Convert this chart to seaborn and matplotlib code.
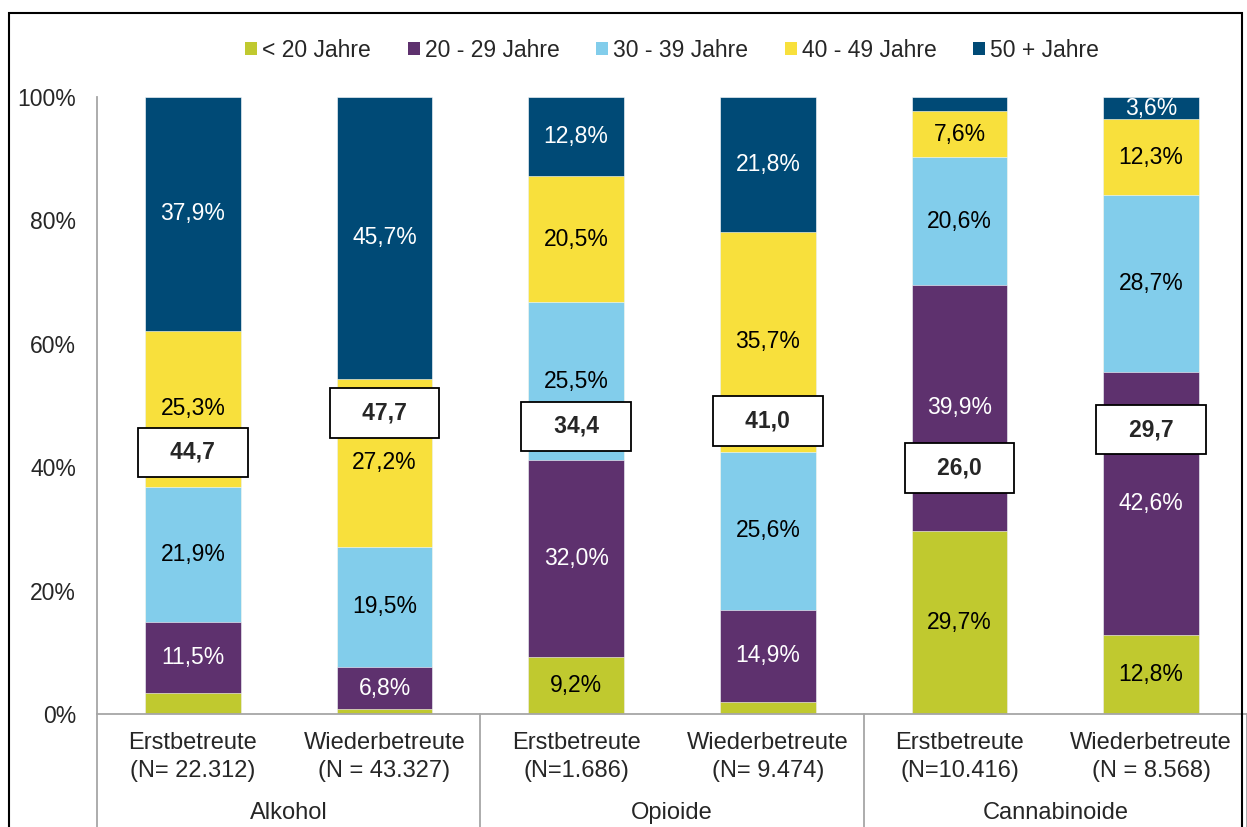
import matplotlib
matplotlib.use("Agg")
import matplotlib.pyplot as plt
import matplotlib.transforms as mtransforms
from matplotlib.patches import Patch, Rectangle
import numpy as np
import pandas as pd
import seaborn as sns

# data
bar_labels = ["Erstbetreute\n(N= 22.312)", "Wiederbetreute\n(N = 43.327)",
              "Erstbetreute\n(N=1.686)", "Wiederbetreute\n(N= 9.474)",
              "Erstbetreute\n(N=10.416)", "Wiederbetreute\n(N = 8.568)"]
groups = ["Alkohol", "Opioide", "Cannabinoide"]
age_classes = ["< 20 Jahre", "20 - 29 Jahre", "30 - 39 Jahre", "40 - 49 Jahre", "50 + Jahre"]

under20 = [3.4, 0.8, 9.2, 2.0, 29.7, 12.8]
age20_29 = [11.5, 6.8, 32.0, 14.9, 39.9, 42.6]
age30_39 = [21.9, 19.5, 25.5, 25.6, 20.6, 28.7]
age40_49 = [25.3, 27.2, 20.5, 35.7, 7.6, 12.3]
age50plus = [37.9, 45.7, 12.8, 21.8, 2.2, 3.6]

mean_age = [44.7, 47.7, 34.4, 41.0, 26.0, 29.7]
mean_box_y = [42.4, 48.8, 46.6, 47.5, 39.9, 46.1]  # where the boxes sit

colors = ["#C0C92F", "#5E316E", "#82CDEB", "#F8E03C", "#004A76"]
text_colors = ["black", "white", "black", "black", "white"]

layers = [under20, age20_29, age30_39, age40_49, age50plus]
df = pd.DataFrame({"bar": bar_labels})
cum = np.cumsum(np.array(layers), axis=0)
for k, name in enumerate(age_classes):
    df[name] = layers[k]
    df["cum_" + name] = cum[k]

sns.set_style("white")
plt.rcParams["font.family"] = ["Liberation Sans", "DejaVu Sans"]
FS = 16.5

fig = plt.figure(figsize=(12.47, 8.27), dpi=100)
ax = fig.add_axes([97 / 1247, 113 / 827, 1150 / 1247, 617 / 827])

# stacked bars: draw cumulative totals from the top layer down
for k in range(len(age_classes) - 1, -1, -1):
    sns.barplot(data=df, x="bar", y="cum_" + age_classes[k], color=colors[k],
                saturation=1, width=0.5, errorbar=None, ax=ax,
                edgecolor="white", linewidth=0.4)

# segment labels
for i in range(len(bar_labels)):
    for k, name in enumerate(age_classes):
        v = df[name][i]
        if v < 3.5:
            continue
        mid = df["cum_" + name][i] - v / 2
        ax.text(i, mid, f"{v:.1f}%".replace(".", ","), ha="center", va="center",
                color=text_colors[k], fontsize=FS)

# mean age boxes
for i, (a, y) in enumerate(zip(mean_age, mean_box_y)):
    ax.text(i, y, "   " + f"{a:.1f}".replace(".", ",") + "   ", ha="center", va="center",
            fontsize=FS, fontweight="bold",
            bbox=dict(boxstyle="square,pad=0.58", facecolor="white", edgecolor="black", linewidth=1.3))

ax.set_xlim(-0.5, 5.5)
ax.set_ylim(0, 100)
ax.set_yticks([0, 20, 40, 60, 80, 100])
ax.set_yticklabels([f"{t}%" for t in [0, 20, 40, 60, 80, 100]])
ax.set_xticks(range(len(bar_labels)))
ax.set_xticklabels(bar_labels, linespacing=1.35)
ax.set_xlabel("")
ax.set_ylabel("")
ax.tick_params(axis="y", length=0, labelsize=FS, pad=15)
ax.tick_params(axis="x", length=0, labelsize=17, pad=13)

for s in ["top", "right"]:
    ax.spines[s].set_visible(False)
for s in ["left", "bottom"]:
    ax.spines[s].set_color("#A6A6A6")
    ax.spines[s].set_linewidth(1.3)

# group separators and group labels under the axis
trans = mtransforms.blended_transform_factory(ax.transData, ax.transAxes)
for xb in [-0.5, 1.5, 3.5, 5.5]:
    ax.plot([xb, xb], [0, -0.2], color="#A6A6A6", lw=1.3, transform=trans, clip_on=False)
for g, name in enumerate(groups):
    ax.text(2 * g + 0.5, -0.161, name, ha="center", va="center", fontsize=17, transform=trans)

handles = [Patch(facecolor=c, edgecolor="none") for c in colors]
ax.legend(handles, age_classes, loc="center", bbox_to_anchor=(0.5, 1.076), ncol=5,
          frameon=False, fontsize=FS, handlelength=0.52, handleheight=0.52,
          handletextpad=0.22, columnspacing=1.6)

# outer frame
fig.add_artist(Rectangle((9 / 1247, -0.1), (1242 - 9) / 1247, 1.1 - 13 / 827,
                         transform=fig.transFigure, fill=False, edgecolor="black", linewidth=1.5))

fig.savefig("out.png", dpi=100)
